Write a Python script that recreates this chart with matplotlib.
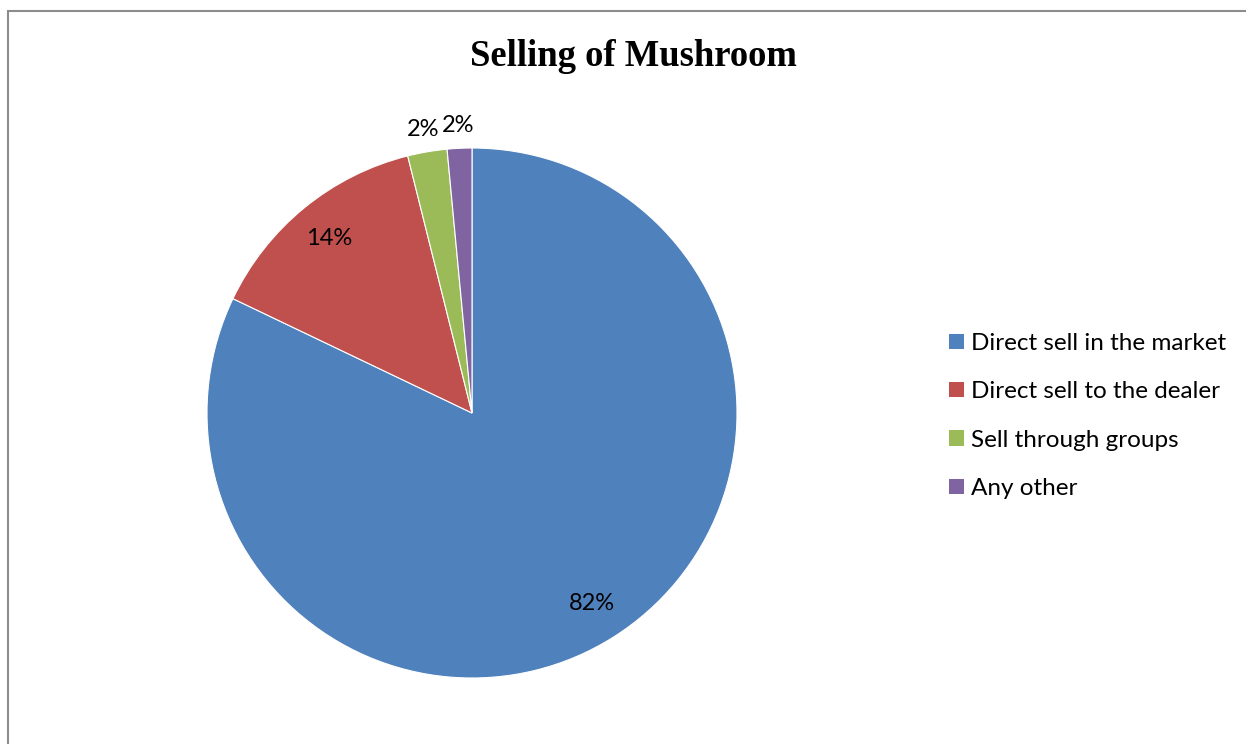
import numpy as np
import matplotlib
matplotlib.use("Agg")
import matplotlib.pyplot as plt
from matplotlib.patches import Patch, Rectangle

# ventas de hongos por canal (porcentaje)
canales = ["Direct sell in the market", "Direct sell to the dealer",
           "Sell through groups", "Any other"]
porcentajes = [82.1, 14.0, 2.4, 1.5]
colores = ["#4F81BD", "#C0504D", "#9BBB59", "#8064A2"]

W, H = 1246, 744
fig = plt.figure(figsize=(W / 100, H / 100), dpi=100)

# marco gris del area del grafico
fig.add_artist(Rectangle((8 / W, -0.1), 1.2, 1 - 11 / H + 0.1, transform=fig.transFigure,
                         fill=False, edgecolor="#8c8c8c", linewidth=1.5))

R = 265
cx, cy = 472, H - 413
ax = fig.add_axes([(cx - R) / W, (cy - R) / H, 2 * R / W, 2 * R / H])
wedges, textos = ax.pie(porcentajes, colors=colores, startangle=90, counterclock=False,
                        radius=1, wedgeprops=dict(edgecolor="white", linewidth=0.8))
ax.set_xlim(-1, 1)
ax.set_ylim(-1, 1)
ax.set_aspect("equal")
ax.axis("off")

# etiquetas: dentro para los grandes, fuera para los pequenos
for w, p in zip(wedges, porcentajes):
    ang = np.deg2rad((w.theta1 + w.theta2) / 2)
    r = 0.85 if p > 5 else 1.085
    ax.text(r * np.cos(ang), r * np.sin(ang), "%.0f%%" % p, ha="center", va="center",
            fontsize=17, family="Lato", color="black", clip_on=False)

fig.text(633 / W, 1 - 57 / H, "Selling of Mushroom", ha="center", va="center",
         fontsize=26.4, fontweight="bold", family="Liberation Serif")

handles = [Patch(facecolor=c, edgecolor="none") for c in colores]
fig.legend(handles, canales, loc="center left", bbox_to_anchor=(949 / W, 1 - 416 / H),
           frameon=False, prop=dict(family="Lato", size=17.5), handlelength=0.6,
           handleheight=0.6, handletextpad=0.3, labelspacing=1.13, borderaxespad=0,
           borderpad=0)

fig.savefig("out.png", dpi=100)
